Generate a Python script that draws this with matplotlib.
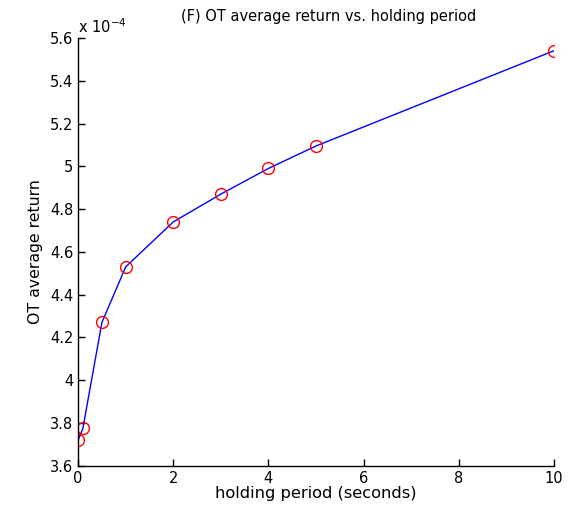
import matplotlib
matplotlib.use("Agg")
import matplotlib.pyplot as plt

holding_period = [0, 0.1, 0.5, 1, 2, 3, 4, 5, 10]
avg_return = [3.72, 3.775, 4.27, 4.53, 4.74, 4.87, 4.99, 5.095, 5.54]  # x 1e-4
x_ticks = [0, 2, 4, 6, 8, 10]
y_ticks = [3.6, 3.8, 4.0, 4.2, 4.4, 4.6, 4.8, 5.0, 5.2, 5.4, 5.6]
y_labels = ["3.6", "3.8", "4", "4.2", "4.4", "4.6", "4.8", "5", "5.2", "5.4", "5.6"]

plt.rcParams['font.family'] = ['DejaVu Sans']
fs = 10.5
fig = plt.figure(figsize=(5.83, 5.13), dpi=100)
ax = fig.add_axes([0.134, 0.092, 0.816, 0.834])
ax.plot(holding_period, avg_return, color='blue', lw=1.0)
ax.plot(holding_period, avg_return, 'o', mfc='none', mec='red', ms=8.5, mew=1.0)
ax.set_xlim(0, 10)
ax.set_ylim(3.6, 5.6)
ax.set_xticks(x_ticks)
ax.set_xticklabels([str(t) for t in x_ticks])
ax.set_yticks(y_ticks)
ax.set_yticklabels(y_labels)
ax.tick_params(direction='in', length=5, labelsize=fs, width=1)
ax.spines['top'].set_visible(False)
ax.spines['right'].set_visible(False)
for s in ['left', 'bottom']:
    ax.spines[s].set_linewidth(1.0)
ax.set_xlabel('holding period (seconds)', fontsize=11.7, labelpad=0)
ax.set_ylabel('OT average return', fontsize=11.3, labelpad=5)
fig.text(329 / 583, 1 - 17 / 513, '(F) OT average return vs. holding period',
         fontsize=fs, ha='center', va='center')
ax.text(0.0, 1.005, r'x 10$^{-4}$', transform=ax.transAxes, fontsize=fs, ha='left', va='bottom')
fig.savefig('out.png', dpi=100)
